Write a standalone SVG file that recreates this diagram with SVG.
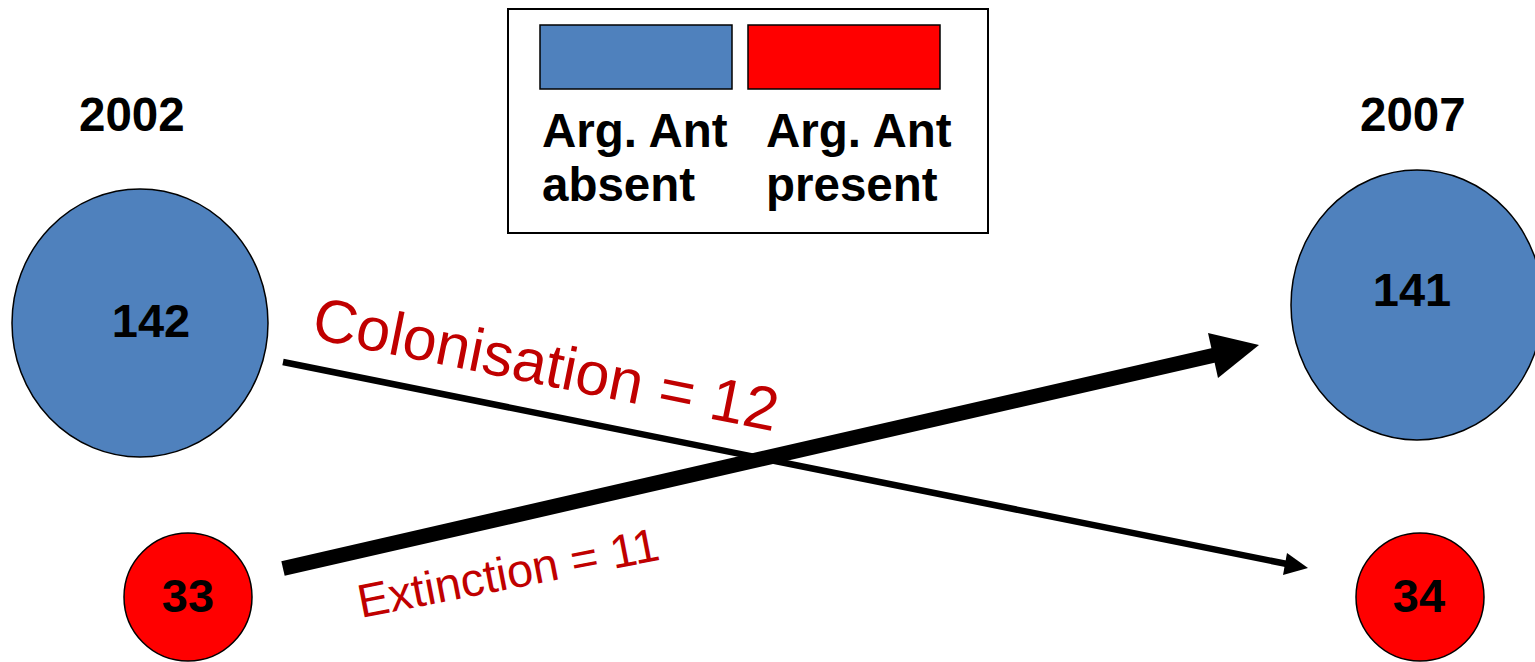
<svg xmlns="http://www.w3.org/2000/svg" width="1535" height="662" viewBox="0 0 1535 662">
<style>
.lbl{font-family:"Liberation Sans",Arial,sans-serif;font-weight:bold;font-size:47.5px;fill:#000}
.num{font-family:"Liberation Sans",Arial,sans-serif;font-weight:bold;font-size:47px;fill:#000;text-anchor:middle}
.red{font-family:"Liberation Sans",Arial,sans-serif;fill:#c00000}
.blue{fill:#4f81bd;stroke:#000;stroke-width:1.5}
.pres{fill:#ff0000;stroke:#000;stroke-width:1.5}
</style>
<rect width="1535" height="662" fill="#fff"/>
<g id="legend">
<rect x="508" y="9" width="480" height="224" fill="#fff" stroke="#000" stroke-width="2"/>
<rect x="540" y="25" width="192" height="64" class="blue" stroke-width="2"/>
<rect x="748" y="25" width="192" height="64" class="pres" stroke-width="2"/>
<text class="lbl" x="542" y="147">Arg. Ant</text>
<text class="lbl" x="542" y="201">absent</text>
<text class="lbl" x="766" y="147">Arg. Ant</text>
<text class="lbl" x="766" y="201">present</text>
</g>
<g id="year2002"><text class="lbl" x="79" y="131">2002</text></g>
<g id="year2007"><text class="lbl" x="1360" y="131">2007</text></g>
<g id="absent2002">
<ellipse cx="140" cy="323" rx="128" ry="134" class="blue"/>
<text class="num" x="151" y="337">142</text>
</g>
<g id="present2002">
<circle cx="188" cy="597" r="64" class="pres"/>
<text class="num" x="188" y="612">33</text>
</g>
<g id="absent2007">
<ellipse cx="1417" cy="305" rx="126" ry="135" class="blue"/>
<text class="num" x="1412" y="306">141</text>
</g>
<g id="present2007">
<circle cx="1420" cy="597" r="64" class="pres"/>
<text class="num" x="1419" y="612">34</text>
</g>
<g id="connectors">
<line x1="283" y1="362" x2="1287" y2="564" stroke="#000" stroke-width="6.5"/>
<polygon points="1308,568 1287,553 1283,575" fill="#000"/>
<line x1="283" y1="568.5" x2="1215" y2="355" stroke="#000" stroke-width="15"/>
<polygon points="1259,345 1208,333 1218,378" fill="#000"/>
<text class="red" font-size="61" x="310" y="338" transform="rotate(11.4 310 338)">Colonisation = 12</text>
<text class="red" font-size="47" x="361" y="618" transform="rotate(-11 361 618)">Extinction = 11</text>
</g>
</svg>
